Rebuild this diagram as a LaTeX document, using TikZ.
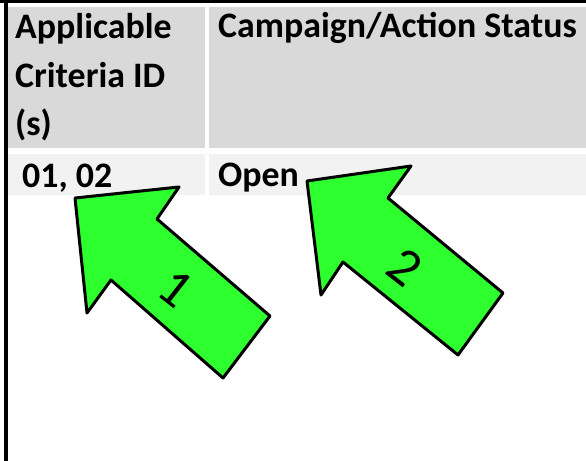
\documentclass[tikz,border=0pt]{standalone}
\usepackage{fontspec}
\setmainfont{Carlito}
\definecolor{headgray}{HTML}{D9D9D9}
\definecolor{rowgray}{HTML}{F2F2F2}
\definecolor{arrowgreen}{HTML}{2EFF2E}

\begin{document}
\begin{tikzpicture}[x=1bp, y=-1bp,
        cell/.style={font=\fontsize{36}{49}\selectfont\bfseries, inner sep=0pt, anchor=base west, align=left},
        bigarrow/.style={draw=black, fill=arrowgreen, line width=3bp, line join=round},
        arrownum/.style={font=\fontsize{54}{54}\selectfont, inner sep=0pt, rotate=-38}]
            \useasboundingbox (0, 0) rectangle (586, 461);
            % table frame
            \fill[black] (0, 0) rectangle (586, 3);
            \fill[black] (4, 0) rectangle (7.5, 461);
            % header row
            \fill[headgray] (8, 7) rectangle (205, 148);
            \fill[headgray] (209, 7) rectangle (586, 148);
            % first data row
            \fill[rowgray] (8, 154) rectangle (205, 195);
            \fill[rowgray] (209, 154) rectangle (586, 195);

            \node[cell] (crit) at (15, 136) {Applicable\\Criteria ID\\(s)};
            \node[cell] (status) at (218, 38) {Campaign/Action Status};
            \node[cell] (ids) at (22, 188) {01, 02};
            \node[cell] (open) at (218, 187) {Open};

            % arrows
            \draw[bigarrow] (75, 198) -- (179, 187) -- (157, 219) -- (270, 316)
                -- (223, 378) -- (111, 280) -- (87, 313) -- cycle;
            \node[arrownum] (one) at (176, 288) {1};
            \draw[bigarrow] (307, 181) -- (411, 166) -- (388, 198) -- (503, 293)
                -- (458, 355) -- (343, 262) -- (321, 295) -- cycle;
            \node[arrownum] (two) at (405, 267) {2};
        \end{tikzpicture}
\end{document}
